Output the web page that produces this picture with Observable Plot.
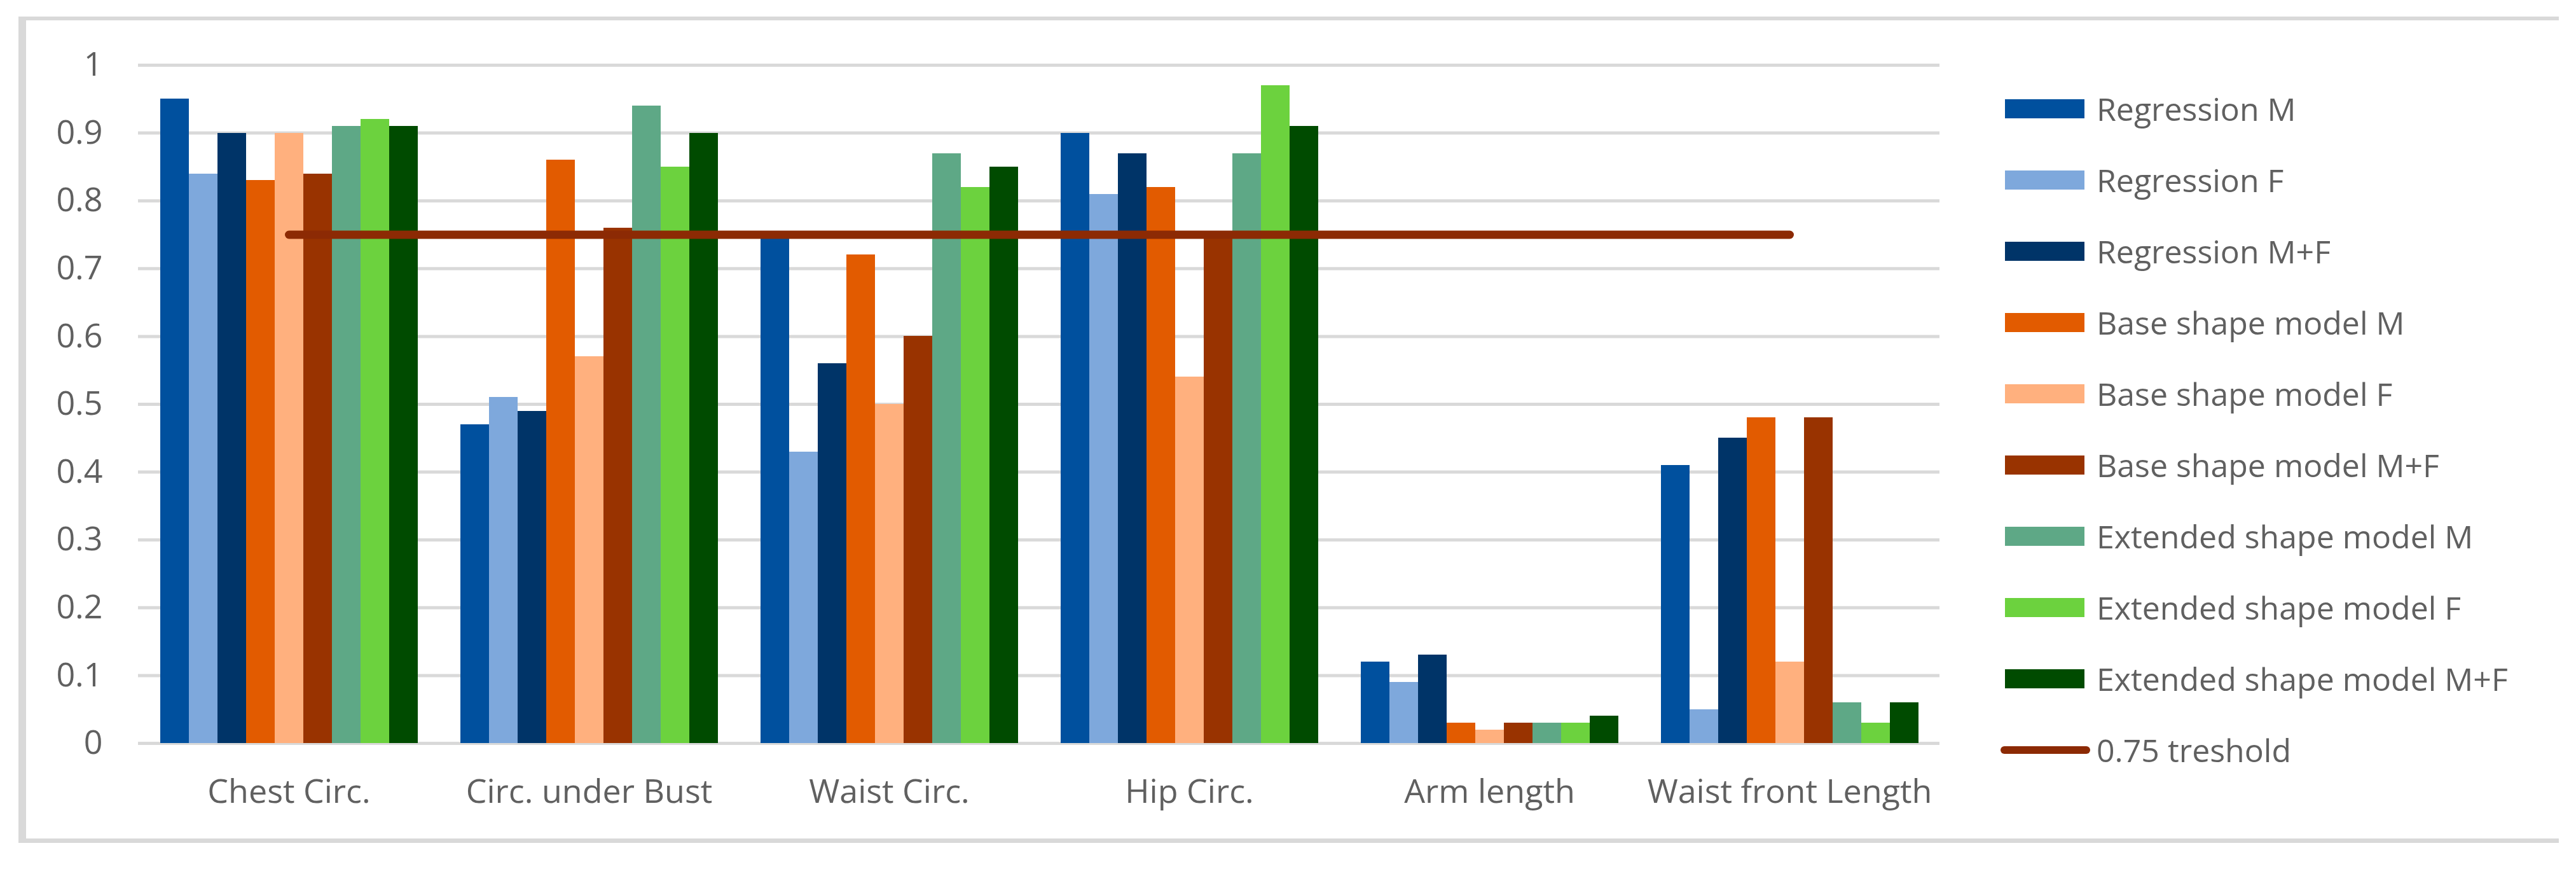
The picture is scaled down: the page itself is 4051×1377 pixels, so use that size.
<!DOCTYPE html>
<html>
<head>
<meta charset="utf-8">
<script src="https://cdn.jsdelivr.net/npm/d3@7"></script>
<script src="https://cdn.jsdelivr.net/npm/@observablehq/plot@0.6"></script>
<style>
  html, body { margin: 0; padding: 0; background: #ffffff; }
  #wrap { position: relative; width: 4051px; height: 1377px; overflow: hidden; background: #ffffff; }
  #frame { position: absolute; left: 29px; top: 26px; width: 3995px; height: 1299px; box-sizing: border-box;
           border-left: 12px solid #D9D9D9; border-top: 6px solid #D9D9D9; border-bottom: 7px solid #D9D9D9; }
  .layer { position: absolute; left: 0; top: 0; }
  .layer svg { display: block; }
  #legend { position: absolute; left: 3146px; top: 0; font-family: "Open Sans", sans-serif; font-size: 50px; color: #606060; }
  .row { position: absolute; left: 0; display: flex; align-items: center; white-space: nowrap; height: 60px; margin-top: -30px; }
  .sw { width: 125px; height: 30px; margin-left: 7px; margin-right: 19px; }
  .ln { width: 141px; height: 12px; border-radius: 6px; margin-right: 10px; }
</style>
</head>
<body>
<div id="wrap">
  <div id="frame"></div>
  <div id="back" class="layer"></div>
  <div id="bars" class="layer"></div>
  <div id="front" class="layer"></div>
  <div id="legend"></div>
</div>
<script>
const categories = ["Chest Circ.", "Circ. under Bust", "Waist Circ.", "Hip Circ.", "Arm length", "Waist front Length"];
const series = [
  "Regression M", "Regression F", "Regression M+F",
  "Base shape model M", "Base shape model F", "Base shape model M+F",
  "Extended shape model M", "Extended shape model F", "Extended shape model M+F"
];
const seriesColors = ["#00509E", "#7EA8DC", "#003468", "#E25B00", "#FFB07E", "#993300", "#5EA886", "#6CD23E", "#004B00"];

const regressionM  = [0.95, 0.47, 0.75, 0.90, 0.12, 0.41];
const regressionF  = [0.84, 0.51, 0.43, 0.81, 0.09, 0.05];
const regressionMF = [0.90, 0.49, 0.56, 0.87, 0.13, 0.45];
const baseM        = [0.83, 0.86, 0.72, 0.82, 0.03, 0.48];
const baseF        = [0.90, 0.57, 0.50, 0.54, 0.02, 0.12];
const baseMF       = [0.84, 0.76, 0.60, 0.75, 0.03, 0.48];
const extendedM    = [0.91, 0.94, 0.87, 0.87, 0.03, 0.06];
const extendedF    = [0.92, 0.85, 0.82, 0.97, 0.03, 0.03];
const extendedMF   = [0.91, 0.90, 0.85, 0.91, 0.04, 0.06];

const thresholdLabel = "0.75 treshold";
const thresholdValues = [0.75, 0.75, 0.75, 0.75, 0.75, 0.75];
const thresholdColor = "#8C2A04";

const yTicks = [0, 0.1, 0.2, 0.3, 0.4, 0.5, 0.6, 0.7, 0.8, 0.9, 1];

const seriesValues = [regressionM, regressionF, regressionMF, baseM, baseF, baseMF, extendedM, extendedF, extendedMF];
const rows = categories.flatMap((c, i) => series.map((s, j) => ({cat: c, series: s, value: seriesValues[j][i]})));
const thresholdRows = categories.map((c, i) => ({cat: c, value: thresholdValues[i]}));

const W = 4051, H = 1377;
const common = {
  width: W, height: H,
  marginLeft: 217, marginRight: W - 3050, marginTop: 102, marginBottom: H - 1168,
  style: {background: "transparent", fontFamily: "'Open Sans', sans-serif", fontSize: "52px", color: "#606060", overflow: "visible"}
};
const pIn = 0.136, pOut = 0.068;

// Back layer: gridlines and axes
const back = Plot.plot({
  ...common,
  x: {type: "band", domain: categories, paddingInner: pIn, paddingOuter: pOut, tickSize: 0, tickPadding: 57, label: null},
  y: {domain: [0, 1], ticks: yTicks, tickFormat: d3.format("~g"), tickSize: 0, tickPadding: 56, label: null},
  marks: [
    Plot.ruleY(yTicks, {stroke: "#D9D9D9", strokeWidth: 5}),
    Plot.ruleX(categories, {x: d => d, y1: 0, y2: 0, strokeOpacity: 0})
  ]
});
document.getElementById("back").appendChild(back);

// Bars layer: grouped bars via facets
const bars = Plot.plot({
  ...common,
  facet: {data: rows, x: "cat"},
  fx: {domain: categories, paddingInner: pIn, paddingOuter: pOut, axis: null, label: null},
  x: {domain: series, padding: 0, axis: null},
  y: {domain: [0, 1], axis: null},
  color: {domain: series, range: seriesColors},
  marks: [
    Plot.barY(rows, {x: "series", y: "value", fill: "series", shapeRendering: "crispEdges"})
  ]
});
document.getElementById("bars").appendChild(bars);

// Front layer: threshold line
const front = Plot.plot({
  ...common,
  x: {type: "point", domain: categories, padding: 0.5, axis: null},
  y: {domain: [0, 1], axis: null},
  marks: [
    Plot.lineY(thresholdRows, {x: "cat", y: "value", stroke: thresholdColor, strokeWidth: 13, strokeLinecap: "round"})
  ]
});
document.getElementById("front").appendChild(front);

// Legend
const legend = document.getElementById("legend");
const rowTop = 171, rowStep = 112;
series.forEach((s, i) => {
  const r = document.createElement("div");
  r.className = "row";
  r.style.top = (rowTop + i * rowStep) + "px";
  const sw = document.createElement("div");
  sw.className = "sw";
  sw.style.background = seriesColors[i];
  const t = document.createElement("span");
  t.textContent = s;
  r.appendChild(sw); r.appendChild(t);
  legend.appendChild(r);
});
{
  const r = document.createElement("div");
  r.className = "row";
  r.style.top = (rowTop + series.length * rowStep) + "px";
  const ln = document.createElement("div");
  ln.className = "ln";
  ln.style.background = thresholdColor;
  const t = document.createElement("span");
  t.textContent = thresholdLabel;
  r.appendChild(ln); r.appendChild(t);
  legend.appendChild(r);
}
</script>
</body>
</html>
